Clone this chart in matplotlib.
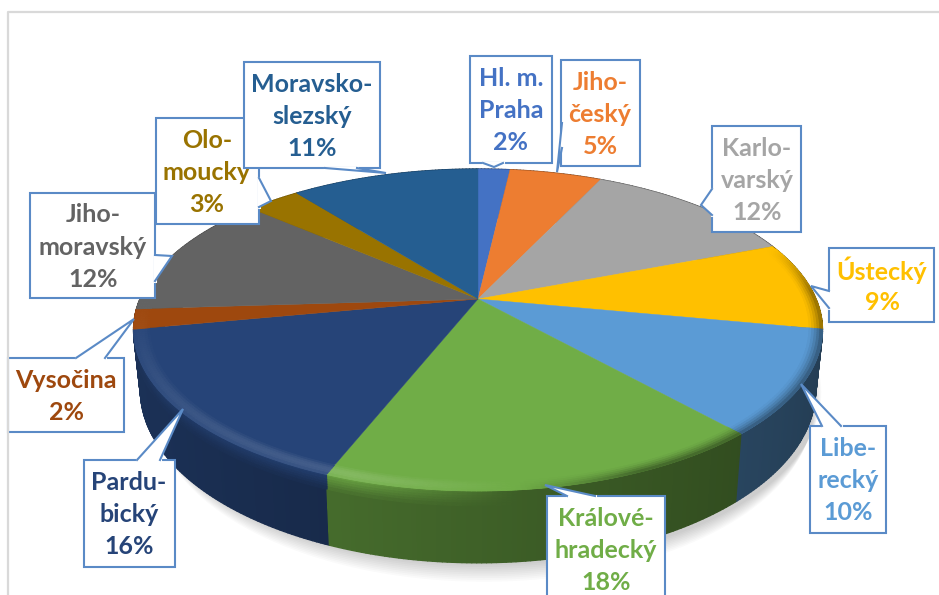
import matplotlib
matplotlib.use('Agg')
import matplotlib.pyplot as plt
from matplotlib.collections import PolyCollection
from matplotlib.colors import to_rgb
import numpy as np

plt.rcParams['font.family'] = ['Lato', 'DejaVu Sans']

# kraj names as they are split over lines in the labels
labels = ['Hl. m.\nPraha', 'Jiho-\nčeský', 'Karlo-\nvarský', 'Ústecký', 'Libe-\nrecký',
          'Králové-\nhradecký', 'Pardu-\nbický', 'Vysočina', 'Jiho-\nmoravský',
          'Olo-\nmoucky', 'Moravsko-\nslezský']
values = [1.8, 5.2, 12.1, 8.9, 10.4, 17.6, 16.0, 2.0, 12.4, 3.0, 10.6]
colors = ['#4472C4', '#ED7D31', '#A5A5A5', '#FFC000', '#5B9BD5', '#70AD47',
          '#264478', '#9E480E', '#636363', '#997300', '#255E91']

# pie geometry, in pixels of the picture
CX, CY = 478, 299
RX, RY = 338, 155
PERSP = 0.1925
DEPTH = 58

# callouts: box (left, top, right, bottom), tail (3 points), text centre x, first line y
callouts = {
    'Jiho-\nmoravský': ((30, 193, 155, 298), [(155, 255), (172, 256), (155, 281)], 93, 215),
    'Olo-\nmoucky': ((156, 118, 259, 224), [(259, 178), (271, 201), (259, 207)], 207, 140),
    'Moravsko-\nslezský': ((244, 62, 380, 168), [(325, 168), (386, 173), (357, 168)], 312, 84),
    'Vysočina': ((8, 358, 124, 432), [(76, 358), (134, 319), (105, 358)], 66, 380),
    'Pardu-\nbický': ((84, 460, 175, 567), [(137, 460), (183, 409), (160, 460)], 129, 482),
    'Králové-\nhradecký': ((547, 496, 665, 600), [(595, 496), (545, 485), (567, 496)], 606, 518),
    'Libe-\nrecký': ((810, 426, 886, 533), [(841, 426), (801, 384), (822, 426)], 848, 448),
    'Ústecký': ((829, 248, 934, 322), [(829, 291), (811, 286), (829, 308)], 882, 270),
    'Karlo-\nvarský': ((712, 126, 801, 232), [(712, 189), (701, 205), (712, 215)], 757, 148),
    'Jiho-\nčeský': ((561, 60, 640, 166), [(562, 123), (557, 172), (562, 148)], 600, 82),
    'Hl. m.\nPraha': ((470, 56, 552, 163), [(483, 163), (494, 167), (503, 163)], 511, 78),
}
BORDER = '#5A8AC6'


def project(theta, r=1.0, drop=0.0):
    # clockwise angle from the top of the pie -> picture pixels, with some perspective
    u = r * np.sin(theta)
    v = r * np.cos(theta)
    w = 1 + PERSP * v
    scale = 1 - 0.02 * drop / DEPTH
    x = CX + scale * RX * u / w
    y = CY - RY * v / w + drop / w
    return x, y


def lighten(col, a):
    c = np.array(to_rgb(col))
    if a >= 0:
        return tuple(c + (1 - c) * a)
    return tuple(c * (1 + a))


def side_color(col, a):
    return lighten(col, -(1 - (0.56 - 0.17 * np.sin(a))))


def quad(a, b, r0=1.0, r1=1.0, d0=0.0, d1=0.0):
    x0, y0 = project(a, r0, d0)
    x1, y1 = project(b, r0, d0)
    x2, y2 = project(b, r1, d1)
    x3, y3 = project(a, r1, d1)
    return [(x0, y0), (x1, y1), (x2, y2), (x3, y3)]


fig = plt.figure(figsize=(9.39, 5.95), dpi=100)
ax = fig.add_axes([0, 0, 1, 1])
ax.set_xlim(0, 939)
ax.set_ylim(595, 0)
ax.axis('off')

# chart frame, only left and top are visible
ax.plot([8, 8, 939], [595, 12, 12], color='#D9D9D9', lw=1.6, zorder=60)

edges = np.cumsum([0] + values) / sum(values) * 2 * np.pi
full = np.linspace(0, 2 * np.pi, 361)

# soft shadow under the pie
for k in range(10):
    sx, sy = project(full, 1.0 - 0.002 * k, DEPTH + 2 + 1.9 * k)
    ax.fill(sx + 6, sy, color='#000000', alpha=0.018, lw=0, zorder=2)

# side wall, back to front so the hidden slices do not peek out at the left
walls = []
band_polys, band_cols = [], []
for i, col in enumerate(colors):
    th = np.arange(edges[i], edges[i + 1] + 0.012, 0.012)
    th[-1] = edges[i + 1]
    for a, b in zip(th[:-1], th[1:]):
        walls.append((-np.cos(a), quad(a, b, d1=DEPTH), side_color(col, a)))
        # top of the wall still catches the light on the left of the front
        u = np.sin(a)
        front = max(0.0, -np.cos(a))
        if u < 0.1 and front > 0:
            k = min(1.0, (0.1 - u) / 0.4) * front
            steps = np.linspace(0, 12, 7)
            base = np.array(side_color(col, a))
            for s0, s1 in zip(steps[:-1], steps[1:]):
                f = 1 - s0 / 12
                band_polys.append(quad(a, b, d0=s0, d1=s1))
                band_cols.append(tuple(base + (np.array(to_rgb(col)) - base) * f * k * 0.8))
walls.sort(key=lambda w: w[0])
polys = [w[1] for w in walls]
cols = [w[2] for w in walls]
ax.add_collection(PolyCollection(polys, facecolors=cols, edgecolors=cols, linewidths=1.0, zorder=3))
ax.add_collection(PolyCollection(band_polys, facecolors=band_cols, edgecolors=band_cols,
                                 linewidths=0.8, zorder=3.5))

# top face
for i, col in enumerate(colors):
    th = np.linspace(edges[i], edges[i + 1], 80)
    x, y = project(th)
    ax.fill(np.r_[CX, x], np.r_[CY, y], facecolor=col, edgecolor=col, lw=0.3, zorder=4)

# rounded rim: lighter on the left of the front, darker on the right
ring = np.linspace(0.955, 1.0, 7)
polys, cols = [], []
for i, col in enumerate(colors):
    th = np.arange(edges[i], edges[i + 1] + 0.012, 0.012)
    th[-1] = edges[i + 1]
    for r0, r1 in zip(ring[:-1], ring[1:]):
        t = (r0 - ring[0]) / (ring[-1] - ring[0])
        for a, b in zip(th[:-1], th[1:]):
            u = np.sin(a)
            v = np.cos(a)
            if v > 0.35:
                continue
            if u < 0.1:
                front = max(0.0, -v)
                amt = 0.15 * np.sin(np.pi * (t * 0.8 + 0.1)) * front * min(1.0, (0.1 - u) / 0.4)
            else:
                amt = -0.5 * t ** 1.5 * min(1.0, (u - 0.1) / 0.3) * min(1.0, (0.35 - v) / 0.3)
            polys.append(quad(a, b, r0, r1))
            cols.append(lighten(col, amt))
ax.add_collection(PolyCollection(polys, facecolors=cols, edgecolors=cols, linewidths=0.6, zorder=5))

# data labels
for n, (name, val, col) in enumerate(zip(labels, values, colors)):
    (l, t, r, b), tail, tx, ty = callouts[name]
    z = 10 + n
    if name == 'Moravsko-\nslezský':
        z = 40
    ax.fill([l, r, r, l], [t, t, b, b], facecolor='white', edgecolor=BORDER, lw=1.5, zorder=z)
    tx_pts, ty_pts = zip(*tail)
    ax.fill(tx_pts, ty_pts, facecolor='white', edgecolor='none', zorder=z + 0.1)
    ax.plot([tail[0][0], tail[1][0], tail[2][0]], [tail[0][1], tail[1][1], tail[2][1]],
            color=BORDER, lw=1.5, zorder=z + 0.2, solid_joinstyle='miter')
    ax.plot([tail[0][0], tail[2][0]], [tail[0][1], tail[2][1]], color='white', lw=2.2, zorder=z + 0.15)
    for k, line in enumerate((name + '\n%d%%' % round(val)).split('\n')):
        ax.text(tx, ty + k * 32.3, line, color=col, fontsize=18, fontweight='bold',
                ha='center', va='center', zorder=z + 0.3)

fig.savefig('out.png', dpi=100)
